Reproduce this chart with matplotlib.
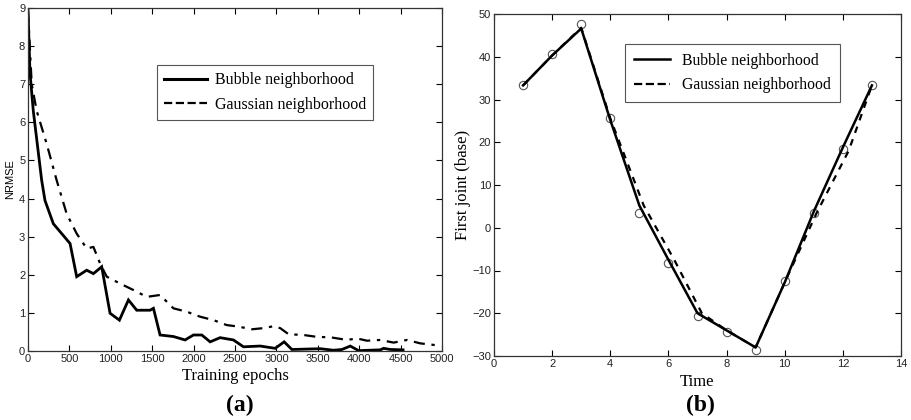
import matplotlib
matplotlib.use("Agg")
import matplotlib.pyplot as plt
from matplotlib.lines import Line2D

# ---- Data (a) ----
bubble_epochs = [0, 24, 64, 165, 205, 306, 508, 588, 709, 790, 890, 991, 1104, 1213,
                 1313, 1474, 1515, 1595, 1756, 1897, 1998, 2099, 2200, 2320, 2481,
                 2602, 2804, 2985, 3094, 3187, 3530, 3690, 3792, 3892, 3993, 4255,
                 4295, 4376, 4530]
bubble_nrmse = [8.95, 7.3, 6.3, 4.48, 3.95, 3.34, 2.82, 1.95, 2.12, 2.03, 2.21, 0.99,
                0.81, 1.34, 1.07, 1.07, 1.12, 0.42, 0.38, 0.29, 0.42, 0.42, 0.24, 0.35,
                0.29, 0.11, 0.13, 0.07, 0.24, 0.04, 0.06, 0.02, 0.04, 0.13, 0.01, 0.03,
                0.07, 0.04, 0.03]
gauss_epochs = [0, 45, 105, 225, 346, 467, 588, 709, 790, 870, 951, 1112, 1273, 1434,
                1595, 1756, 1918, 2079, 2240, 2401, 2542, 2703, 2844, 2965, 3046, 3147,
                3329, 3490, 3651, 3852, 3973, 4094, 4255, 4416, 4577, 4738, 4899, 4950]
gauss_nrmse = [8.9, 7.0, 6.3, 5.44, 4.48, 3.6, 3.08, 2.69, 2.73, 2.3, 1.95, 1.77, 1.6,
               1.42, 1.47, 1.12, 1.03, 0.9, 0.81, 0.68, 0.64, 0.57, 0.6, 0.65, 0.6,
               0.44, 0.42, 0.37, 0.36, 0.29, 0.33, 0.27, 0.29, 0.22, 0.29, 0.2, 0.16,
               0.15]

# ---- Data (b) ----
time = [1, 2, 3, 4, 5, 6, 7, 8, 9, 10, 11, 12, 13]
target = [33.3, 40.6, 47.6, 25.6, 3.4, -8.3, -20.7, -24.5, -28.7, -12.5, 3.5, 18.5, 33.3]
bubble_joint = [33.3, 40.3, 46.6, 25.2, 5.2, -7.5, -20.0, -24.0, -28.0, -12.8, 3.8, 18.8, 33.3]
gauss_joint_t = [1, 2, 3, 4, 5.15, 6.2, 7.15, 8, 9, 10, 11.1, 12.2, 13]
gauss_joint = [33.3, 40.3, 46.8, 25.6, 5.2, -7.5, -20.0, -24.0, -28.0, -12.8, 3.5, 18.0, 33.3]

serif = ["Liberation Serif", "DejaVu Serif"]
sans = ["Liberation Sans", "DejaVu Sans"]

fig = plt.figure(figsize=(9.11, 4.2), dpi=100)
axa = fig.add_axes([28/911, 1-351/420, 414/911, 343/420])
axb = fig.add_axes([494/911, 1-356/420, 407/911, 342/420])

for ax in (axa, axb):
    ax.tick_params(direction="in", top=True, right=True, length=4, width=0.8,
                   labelsize=8, pad=2, labelcolor="#222222")
    for s in ax.spines.values():
        s.set_linewidth(0.9)
        s.set_color("#333333")

# (a)
axa.plot(bubble_epochs, bubble_nrmse, color="black", lw=2.0, solid_joinstyle="miter")
axa.plot(gauss_epochs, gauss_nrmse, color="black", lw=1.6, linestyle=(0, (5, 3, 1.5, 3)))
axa.set_xlim(0, 5000)
axa.set_ylim(0, 9)
axa.set_xticks(range(0, 5001, 500))
axa.set_yticks(range(0, 10))
axa.set_xlabel("Training epochs", family=serif, fontsize=12, labelpad=3)
axa.set_ylabel("NRMSE", family=sans, fontsize=8, labelpad=3)
for lab in axa.get_xticklabels() + axa.get_yticklabels():
    lab.set_family(sans)
ha = [Line2D([], [], color="black", lw=2.2), Line2D([], [], color="black", lw=1.6, ls="--")]
leg = axa.legend(ha, ["Bubble neighborhood", "Gaussian neighborhood"],
                 loc="upper left", bbox_to_anchor=(0.312, 0.834), borderaxespad=0,
                 prop={"family": serif, "size": 11.5}, fancybox=False, framealpha=1,
                 edgecolor="#555555", handlelength=2.7, handletextpad=0.45,
                 borderpad=0.45, labelspacing=0.55)
leg.get_frame().set_linewidth(0.8)

# (b)
axb.plot(time, target, linestyle="none", marker="o", markersize=6, mfc="none",
         mec="#555555", mew=0.8)
axb.plot(time, bubble_joint, color="black", lw=1.8)
axb.plot(gauss_joint_t, gauss_joint, color="black", lw=1.6, ls=(0, (3, 3)))
axb.set_xlim(0, 14)
axb.set_ylim(-30, 50)
axb.set_xticks(range(0, 15, 2))
axb.set_yticks(range(-30, 51, 10))
axb.set_xlabel("Time", family=serif, fontsize=12, labelpad=4)
axb.set_ylabel("First joint (base)", family=serif, fontsize=12, labelpad=1)
for lab in axb.get_xticklabels() + axb.get_yticklabels():
    lab.set_family(sans)
hb = [Line2D([], [], color="black", lw=1.8), Line2D([], [], color="black", lw=1.6, ls="--")]
legb = axb.legend(hb, ["Bubble neighborhood", "Gaussian neighborhood"],
                  loc="upper left", bbox_to_anchor=(0.322, 0.912), borderaxespad=0,
                  prop={"family": serif, "size": 11.3}, fancybox=False, framealpha=1,
                  edgecolor="#555555", handlelength=2.3, handletextpad=0.8,
                  borderpad=0.55, labelspacing=0.55)
legb.get_frame().set_linewidth(0.8)

fig.text(240/911, 1-405/420, "(a)", family=serif, fontsize=17, fontweight="bold",
         ha="center", va="center")
fig.text(700/911, 1-405/420, "(b)", family=serif, fontsize=17, fontweight="bold",
         ha="center", va="center")

fig.savefig("out.png", dpi=100)
